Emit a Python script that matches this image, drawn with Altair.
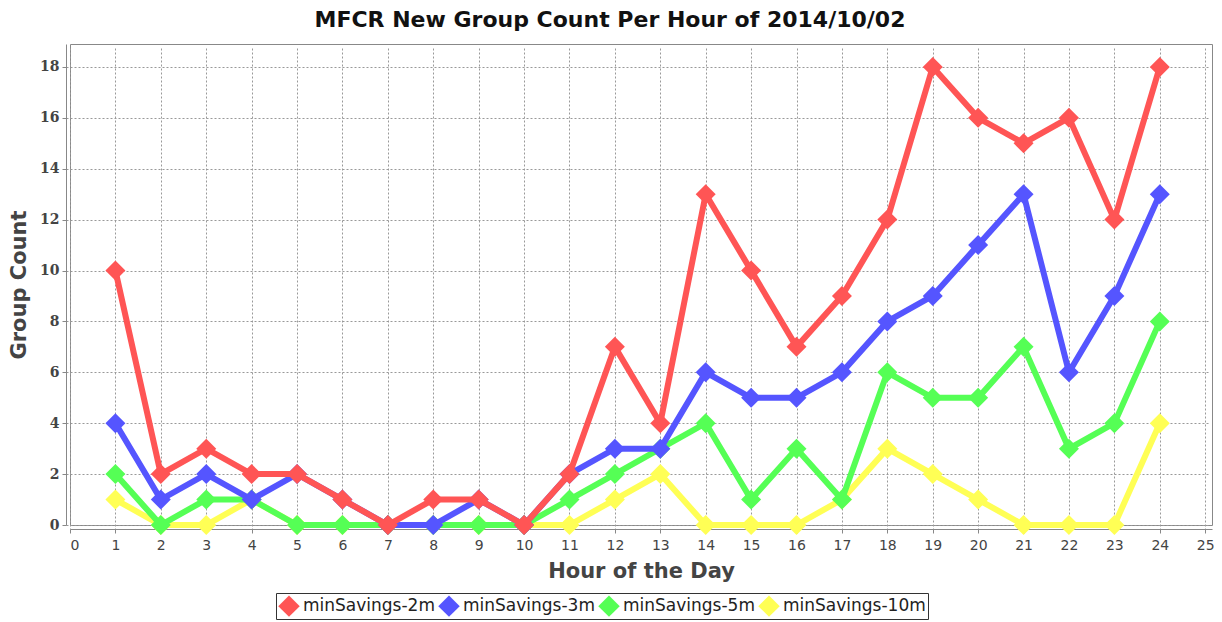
import altair as alt
import pandas as pd

hours = list(range(1, 25))
series_names = ["minSavings-2m", "minSavings-3m", "minSavings-5m", "minSavings-10m"]
colors = ["#FF5555", "#5555FF", "#55FF55", "#FFFF55"]
s2m = [10, 2, 3, 2, 2, 1, 0, 1, 1, 0, 2, 7, 4, 13, 10, 7, 9, 12, 18, 16, 15, 16, 12, 18]
s3m = [4, 1, 2, 1, 2, 1, 0, 0, 1, 0, 2, 3, 3, 6, 5, 5, 6, 8, 9, 11, 13, 6, 9, 13]
s5m = [2, 0, 1, 1, 0, 0, 0, 0, 0, 0, 1, 2, 3, 4, 1, 3, 1, 6, 5, 5, 7, 3, 4, 8]
s10m = [1, 0, 0, 1, 0, 0, 0, 0, 0, 0, 0, 1, 2, 0, 0, 0, 1, 3, 2, 1, 0, 0, 0, 4]

rows = []
for name, vals in zip(series_names, [s2m, s3m, s5m, s10m]):
    for h, v in zip(hours, vals):
        rows.append({"hour": h, "count": v, "series": name})
df = pd.DataFrame(rows)

fill = alt.Fill(
    "series:N",
    scale=alt.Scale(domain=series_names, range=colors),
    legend=alt.Legend(
        title=None,
        orient="none",
        legendX=206,
        legendY=549,
        direction="horizontal",
        columns=4,
        symbolType="diamond",
        symbolSize=460,
        symbolStrokeWidth=0,
        symbolOpacity=1,
        labelFontSize=17,
        labelFont="DejaVu Sans",
        labelColor="#222",
        labelLimit=300,
        columnPadding=3,
        labelOffset=3,
        padding=2,
        strokeColor="#333",
    ),
)

x = alt.X(
    "hour:Q",
    scale=alt.Scale(domain=[0, 25.15], nice=False, zero=False),
    axis=alt.Axis(title="Hour of the Day", values=list(range(0, 26)), format="d"),
)
y = alt.Y(
    "count:Q",
    scale=alt.Scale(domain=[0, 18.9], nice=False),
    axis=alt.Axis(
        title="Group Count",
        values=list(range(0, 19, 2)),
        format="d",
        labelFont="DejaVu Serif",
        labelFontWeight="bold",
        labelFontSize=14,
    ),
)

layers = []
for name, col in reversed(list(zip(series_names, colors))):
    base = alt.Chart(df).transform_filter(alt.datum.series == name)
    layers.append(base.mark_line(strokeWidth=6, color=col).encode(x=x, y=y))
    layers.append(
        base.mark_point(shape="diamond", size=400, filled=True, opacity=1, strokeWidth=0)
        .encode(x=x, y=y, fill=fill)
    )

chart = (
    alt.layer(*layers)
    .properties(
        width=1142,
        height=481,
        title=alt.TitleParams(
            "MFCR New Group Count Per Hour of 2014/10/02",
            fontSize=22,
            font="DejaVu Sans",
            fontWeight="bold",
            color="#111",
            anchor="middle",
            dx=-31,
            offset=12,
        ),
        autosize=alt.AutoSizeParams(type="none"),
        padding={"left": 62, "top": 36, "right": 2, "bottom": 96},
    )
    .configure_view(stroke="#888", strokeWidth=1)
    .configure_axis(
        labelFont="DejaVu Sans",
        labelFontSize=14,
        labelColor="#444",
        titleFont="DejaVu Sans",
        titleFontSize=21,
        titleFontWeight="bold",
        titleColor="#444",
        domainColor="#888",
        tickColor="#888",
        tickSize=4,
        offset=4,
        labelPadding=3,
        grid=True,
        gridColor="#999",
        gridDash=[2, 2],
        gridWidth=1,
    )
    .configure_axisX(titlePadding=8, labelPadding=5)
    .configure_axisY(titlePadding=10)
)

chart.save("out.html", embed_options={"renderer": "svg", "actions": False})
